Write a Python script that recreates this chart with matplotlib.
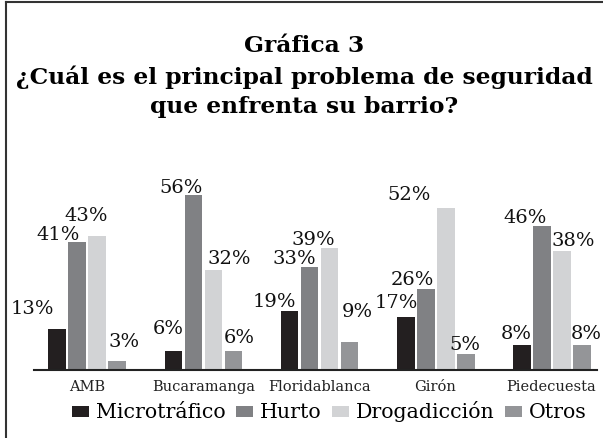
import matplotlib
matplotlib.use('Agg')
import matplotlib.pyplot as plt
from matplotlib.lines import Line2D
import numpy as np

plt.rcParams['font.family'] = ['DejaVu Serif']

categories = ['AMB', 'Bucaramanga', 'Floridablanca', 'Girón', 'Piedecuesta']
series_names = ['Microtráfico', 'Hurto', 'Drogadicción', 'Otros']
microtrafico = [13, 6, 19, 17, 8]
hurto = [41, 56, 33, 26, 46]
drogadiccion = [43, 32, 39, 52, 38]
otros = [3, 6, 9, 5, 8]

colors = ['#231f20', '#808184', '#d2d3d5', '#949598']

# label nudges in pixels (dx, dy), per series then per category
label_offsets = [
    [(-25, 20), (-5, 22), (-15, 9), (-9, 14), (-5, 11)],
    [(-19, 7), (-12, 7), (-15, 8), (-13, 9), (-16, 8)],
    [(-11, 20), (16, 11), (-16, 8), (-36, 13), (12, 10)],
    [(7, 19), (6, 13), (8, 30), (-1, 9), (5, 11)],
]

W, H = 603, 438
fig = plt.figure(figsize=(W / 100, H / 100), dpi=100)
ax = fig.add_axes([34 / W, (H - 370) / H, 563 / W, 180 / H])

x = np.arange(len(categories))
step = 0.1724
width = 0.155
all_series = [microtrafico, hurto, drogadiccion, otros]
for k, (vals, col) in enumerate(zip(all_series, colors)):
    pos = x + (k - 1.5) * step
    ax.bar(pos, vals, width=width, color=col, label=series_names[k], zorder=2)
    for i, v in enumerate(vals):
        dx, dy = label_offsets[k][i]
        ax.annotate(f'{v}%', (pos[i], v), xytext=(dx, dy),
                    textcoords='offset pixels', ha='center', va='center',
                    fontsize=14, color='#111111')

ax.set_xlim(-0.461, 4.392)
ax.set_ylim(0, 57.7)
ax.set_xticks(x)
ax.set_xticklabels(categories, fontsize=10.5, color='#222222')
ax.tick_params(axis='x', length=0, pad=7)
ax.set_yticks([])
for s in ['top', 'right', 'left']:
    ax.spines[s].set_visible(False)
ax.spines['bottom'].set_linewidth(1.5)
ax.spines['bottom'].set_color('#222222')
ax.patch.set_visible(False)

title_kw = dict(ha='center', va='center', fontsize=16.8, fontweight='bold')
fig.text(0.505, 1 - 46 / H, 'Gráfica 3', **title_kw)
fig.text(0.505, 1 - 77 / H, '¿Cuál es el principal problema de seguridad',
         **title_kw)
fig.text(0.505, 1 - 107 / H, 'que enfrenta su barrio?', **title_kw)

fig.legend(loc='center', bbox_to_anchor=(0.546, 1 - 412 / H), ncol=4,
           frameon=False, fontsize=14.8, handlelength=0.84, handleheight=0.47,
           handletextpad=0.33, columnspacing=0.5, borderaxespad=0)

# frame (cut off on the right and bottom like the scan)
fig.add_artist(Line2D([6 / W, 6 / W], [0, 1 - 2 / H], color='#333333',
                      lw=1.5, transform=fig.transFigure))
fig.add_artist(Line2D([6 / W, 1], [1 - 2 / H, 1 - 2 / H], color='#333333',
                      lw=1.5, transform=fig.transFigure))

fig.savefig('out.png', dpi=100)
